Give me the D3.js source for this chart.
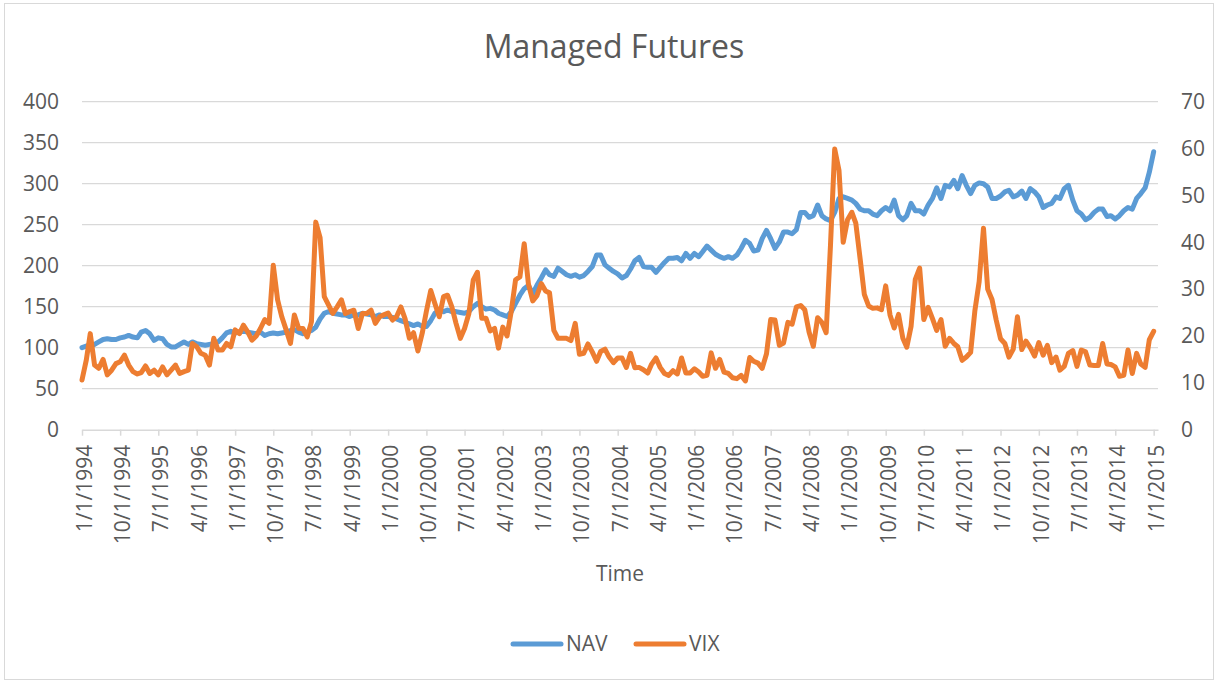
<!DOCTYPE html>
<html>
<head>
<meta charset="utf-8">
<script src="https://cdn.jsdelivr.net/npm/d3@7"></script>
<style>
  body { margin: 0; background: #ffffff; }
  svg text { font-family: "Open Sans", sans-serif; fill: #595959; }
</style>
</head>
<body>
<svg id="chart" width="1218" height="682"></svg>
<script>
// ---------------- DATA ----------------
const chartTitle = "Managed Futures";
const xAxisTitle = "Time";
const seriesNames = ["NAV", "VIX"];
const firstMonth = "1994-01-01";   // monthly observations start here
const axisEnd = "2015-02-01";

// NAV (left axis), monthly Jan 1994 .. Jan 2015
const navValues = [
  100, 102, 103, 104, 107, 110, 111, 110, 110, 112, 113, 115,   // 1994
  113, 112, 119, 121, 117, 109, 112, 111, 104, 101, 101, 104,   // 1995
  107, 104, 107, 105, 104, 103, 104, 105, 107, 112, 118, 120,   // 1996
  118, 119, 120, 119, 118, 117, 119, 115, 117, 118, 117, 118,   // 1997
  119, 121, 122, 119, 117, 119, 121, 125, 135, 142, 144, 142,   // 1998
  141, 140, 140, 138, 140, 140, 142, 141, 140, 138, 140, 138,   // 1999
  138, 137, 135, 133, 131, 129, 127, 129, 126, 126, 133, 142,   // 2000
  146, 144, 146, 144, 144, 143, 142, 144, 150, 154, 150, 147,   // 2001
  148, 146, 142, 140, 138, 144, 154, 164, 172, 176, 166, 176,   // 2002
  185, 195, 189, 187, 197, 193, 189, 187, 189, 186, 188, 193,   // 2003
  199, 213, 213, 201, 197, 193, 190, 185, 188, 196, 206, 210,   // 2004
  199, 198, 198, 192, 198, 204, 209, 209, 210, 206, 215, 209,   // 2005
  215, 211, 217, 224, 219, 214, 211, 209, 211, 209, 213, 221,   // 2006
  231, 227, 218, 219, 233, 243, 233, 221, 229, 241, 241, 239,   // 2007
  244, 265, 265, 259, 261, 274, 261, 257, 255, 265, 282, 284,   // 2008
  282, 280, 276, 269, 267, 267, 263, 261, 267, 271, 267, 280,   // 2009
  261, 256, 261, 276, 267, 267, 263, 274, 282, 295, 282, 298,   // 2010
  296, 304, 294, 310, 298, 288, 298, 301, 300, 296, 282, 282,   // 2011
  285, 290, 292, 284, 286, 291, 282, 294, 290, 284, 271, 274,   // 2012
  276, 284, 282, 294, 298, 280, 267, 263, 256, 259, 265, 269,   // 2013
  269, 260, 261, 257, 261, 267, 271, 269, 282, 288, 295, 314,   // 2014
  339                                                           // 2015
];

// VIX (right axis), monthly Jan 1994 .. Jan 2015
const vixValues = [
  10.6, 14.9, 20.5, 13.8, 13.1, 15.0, 11.7, 12.7, 14.1, 14.5, 15.9, 13.8,   // 1994
  12.4, 11.9, 12.2, 13.6, 12.0, 12.7, 11.7, 13.4, 11.7, 12.7, 13.8, 12.0,   // 1995
  12.4, 12.7, 18.4, 17.7, 16.3, 15.9, 13.8, 19.5, 17.0, 17.0, 18.4, 17.7,   // 1996
  21.3, 20.5, 22.3, 20.9, 19.1, 20.0, 21.6, 23.5, 22.7, 35.1, 27.7, 24.1,   // 1997
  21.3, 18.4, 24.5, 21.6, 21.6, 19.8, 23.0, 44.3, 41.0, 28.4, 26.6, 24.8,   // 1998
  26.2, 27.7, 24.8, 25.2, 25.5, 21.6, 24.8, 24.8, 25.5, 22.7, 24.1, 24.5,   // 1999
  24.9, 23.4, 24.1, 26.2, 23.7, 19.5, 20.7, 16.8, 20.6, 25.3, 29.7, 26.9,   // 2000
  24.1, 28.4, 28.7, 26.2, 22.7, 19.5, 21.6, 24.8, 31.9, 33.6, 23.8, 23.8,   // 2001
  21.1, 21.6, 17.4, 21.9, 20.0, 25.4, 32.0, 32.6, 39.7, 31.1, 27.5, 28.6,   // 2002
  31.2, 29.6, 29.2, 21.2, 19.5, 19.5, 19.5, 19.0, 22.7, 16.1, 16.3, 18.3,   // 2003
  16.6, 14.6, 16.7, 17.2, 15.5, 14.3, 15.3, 15.3, 13.3, 16.3, 13.2, 13.3,   // 2004
  12.8, 12.1, 14.0, 15.3, 13.3, 12.0, 11.6, 12.6, 11.9, 15.3, 12.1, 12.1,   // 2005
  13.0, 12.3, 11.4, 11.6, 16.4, 13.1, 15.0, 12.3, 12.0, 11.1, 10.9, 11.6,   // 2006
  10.4, 15.4, 14.6, 14.2, 13.1, 16.2, 23.5, 23.4, 18.0, 18.5, 22.9, 22.5,   // 2007
  26.2, 26.5, 25.6, 20.8, 17.8, 23.9, 22.9, 20.7, 39.4, 59.9, 55.3, 40.0,   // 2008
  44.8, 46.4, 44.1, 36.5, 28.9, 26.4, 25.9, 26.0, 25.6, 30.7, 24.5, 21.7,   // 2009
  24.6, 19.5, 17.6, 22.1, 32.1, 34.5, 23.5, 26.1, 23.7, 21.2, 23.5, 17.8,   // 2010
  19.5, 18.4, 17.7, 14.8, 15.5, 16.5, 25.3, 31.6, 43.0, 30.0, 27.8, 23.4,   // 2011
  19.4, 18.4, 15.5, 17.2, 24.1, 17.1, 18.9, 17.5, 15.7, 18.6, 15.9, 18.0,   // 2012
  14.3, 15.5, 12.7, 13.5, 16.3, 16.9, 13.5, 17.0, 16.6, 13.8, 13.7, 13.7,   // 2013
  18.4, 14.0, 13.9, 13.4, 11.4, 11.6, 17.0, 12.0, 16.3, 14.0, 13.3, 19.2,   // 2014
  21.0                                                                      // 2015
];

const xTickLabels = [
  "1/1/1994", "10/1/1994", "7/1/1995", "4/1/1996", "1/1/1997", "10/1/1997",
  "7/1/1998", "4/1/1999", "1/1/2000", "10/1/2000", "7/1/2001", "4/1/2002",
  "1/1/2003", "10/1/2003", "7/1/2004", "4/1/2005", "1/1/2006", "10/1/2006",
  "7/1/2007", "4/1/2008", "1/1/2009", "10/1/2009", "7/1/2010", "4/1/2011",
  "1/1/2012", "10/1/2012", "7/1/2013", "4/1/2014", "1/1/2015"
];
const leftTicks = [0, 50, 100, 150, 200, 250, 300, 350, 400];
const rightTicks = [0, 10, 20, 30, 40, 50, 60, 70];

// ---------------- LAYOUT / STYLE ----------------
const plot = { left: 82, right: 1158, top: 101.7, bottom: 429.7 };
const colors = { NAV: "#5b9bd5", VIX: "#ed7d31", grid: "#d9d9d9", text: "#595959" };
const lineWidth = 5;

const parseISO = d3.timeParse("%Y-%m-%d");
const parseLabel = d3.timeParse("%m/%d/%Y");
const start = parseISO(firstMonth);
const dates = d3.timeMonth.range(start, d3.timeMonth.offset(start, navValues.length));

const svg = d3.select("#chart");

// chart border
svg.append("rect")
  .attr("x", 4.5).attr("y", 3.5).attr("width", 1209).attr("height", 676)
  .attr("fill", "#ffffff").attr("stroke", colors.grid).attr("stroke-width", 1);

const x = d3.scaleTime().domain([start, parseISO(axisEnd)]).range([plot.left, plot.right]);
const yL = d3.scaleLinear().domain([0, 400]).range([plot.bottom, plot.top]);
const yR = d3.scaleLinear().domain([0, 70]).range([plot.bottom, plot.top]);

// gridlines
svg.append("g").selectAll("line").data(leftTicks.filter(d => d > 0)).join("line")
  .attr("x1", plot.left).attr("x2", plot.right)
  .attr("y1", d => yL(d)).attr("y2", d => yL(d))
  .attr("stroke", colors.grid).attr("stroke-width", 1.2);

// left axis
const gL = svg.append("g").attr("transform", `translate(${plot.left},0)`)
  .call(d3.axisLeft(yL).tickValues(leftTicks).tickSize(0).tickPadding(23));
gL.select(".domain").remove();
gL.selectAll("text").style("font-size", "21px").attr("fill", colors.text);

// right axis
const gR = svg.append("g").attr("transform", `translate(${plot.right},0)`)
  .call(d3.axisRight(yR).tickValues(rightTicks).tickSize(0).tickPadding(23));
gR.select(".domain").remove();
gR.selectAll("text").style("font-size", "21px").attr("fill", colors.text);

// bottom axis
const tickDates = xTickLabels.map(parseLabel);
const gB = svg.append("g").attr("transform", `translate(0,${plot.bottom})`)
  .call(d3.axisBottom(x).tickValues(tickDates)
    .tickFormat((d, i) => xTickLabels[i]).tickSize(6).tickSizeOuter(0));
gB.select(".domain").attr("stroke", colors.grid).attr("stroke-width", 1.5);
gB.selectAll(".tick line").attr("stroke", colors.grid).attr("stroke-width", 1.5);
gB.selectAll("text")
  .style("font-size", "21px").attr("fill", colors.text)
  .attr("transform", "rotate(-90)")
  .attr("text-anchor", "end")
  .attr("x", -15).attr("y", 2).attr("dy", "0.35em");

// lines
const navLine = d3.line().x((d, i) => x(dates[i])).y(d => yL(d));
const vixLine = d3.line().x((d, i) => x(dates[i])).y(d => yR(d));

svg.append("path").datum(navValues)
  .attr("d", navLine).attr("fill", "none")
  .attr("stroke", colors.NAV).attr("stroke-width", lineWidth)
  .attr("stroke-linejoin", "round").attr("stroke-linecap", "round");

svg.append("path").datum(vixValues)
  .attr("d", vixLine).attr("fill", "none")
  .attr("stroke", colors.VIX).attr("stroke-width", lineWidth)
  .attr("stroke-linejoin", "round").attr("stroke-linecap", "round");

// title
svg.append("text").attr("x", 614).attr("y", 58)
  .attr("text-anchor", "middle").style("font-size", "32px")
  .attr("fill", colors.text).text(chartTitle);

// x axis title
svg.append("text").attr("x", (plot.left + plot.right) / 2).attr("y", 581)
  .attr("text-anchor", "middle").style("font-size", "21px")
  .attr("fill", colors.text).text(xAxisTitle);

// legend
const legendItems = [
  { name: seriesNames[0], color: colors.NAV, x0: 513 },
  { name: seriesNames[1], color: colors.VIX, x0: 636 }
];
const lg = svg.append("g");
legendItems.forEach(it => {
  lg.append("line").attr("x1", it.x0).attr("x2", it.x0 + 48)
    .attr("y1", 644).attr("y2", 644)
    .attr("stroke", it.color).attr("stroke-width", lineWidth).attr("stroke-linecap", "round");
  lg.append("text").attr("x", it.x0 + 53).attr("y", 644).attr("dy", "0.35em")
    .style("font-size", "21px").attr("fill", colors.text).text(it.name);
});
</script>
</body>
</html>
